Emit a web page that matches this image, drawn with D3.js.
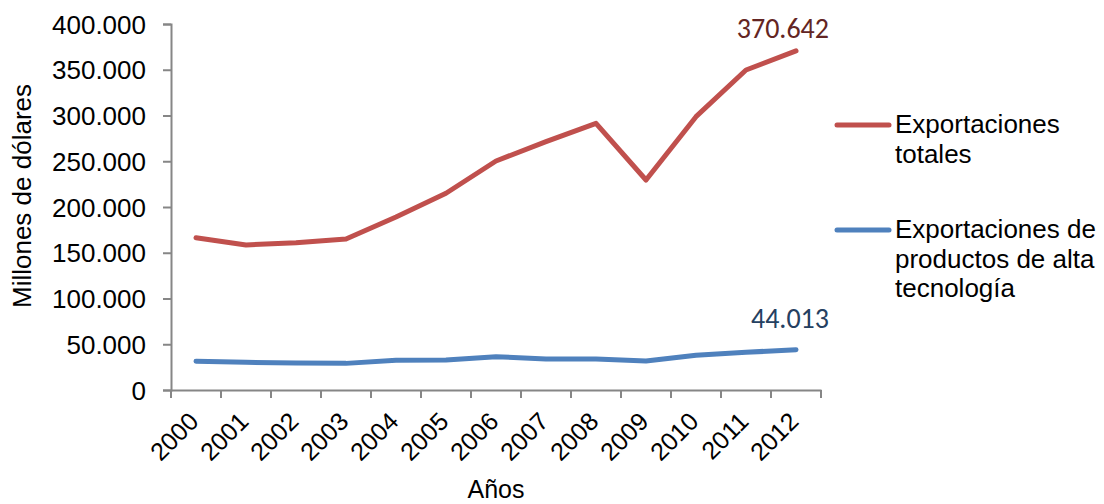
<!DOCTYPE html>
<html><head><meta charset="utf-8">
<script src="https://cdn.jsdelivr.net/npm/d3@7"></script>
<style>body{margin:0;background:#fff;} svg{display:block;}</style>
</head><body>
<svg id="c" width="1104" height="504"></svg>
<script>
const years = ["2000","2001","2002","2003","2004","2005","2006","2007","2008","2009","2010","2011","2012"];
const totales = [166400,158500,161000,165000,189000,215000,250300,271500,291400,229500,298700,349700,370642];
const altaTec = [31400,30300,29500,29100,32400,32800,36400,33900,33900,31700,37900,41200,44013];
const yTicks = [0,50000,100000,150000,200000,250000,300000,350000,400000];
const seriesNames = [["Exportaciones","totales"],["Exportaciones de","productos de alta","tecnología"]];
const colors = ["#C0504D","#4F81BD"];
const labelColors = ["#632523","#254061"];

const svg = d3.select("#c");
const x = d3.scaleBand().domain(years).range([171,821]);
const y = d3.scaleLinear().domain([0,400000]).range([390,24]);
const fmt = v => v===0 ? "0" : d3.format(",")(v).replace(/,/g,".");
const font = "'Liberation Sans', Arial, sans-serif";
const fs = 26;
const axisColor = "#868686";

// Y axis
const ya = svg.append("g").attr("transform","translate(171,0)")
  .call(d3.axisLeft(y).tickValues(yTicks).tickFormat(fmt).tickSize(8).tickPadding(17));
ya.select(".domain").attr("stroke",axisColor).attr("stroke-width",2);
ya.selectAll(".tick line").attr("stroke",axisColor).attr("stroke-width",2);
ya.selectAll(".tick text").attr("font-family",font).attr("font-size",fs).attr("fill","#000").attr("dy","0.35em");

// X axis
const xa = svg.append("g").attr("transform","translate(0,390)")
  .call(d3.axisBottom(x).tickSize(0).tickFormat(""));
xa.select(".domain").attr("stroke",axisColor).attr("stroke-width",2);
const edges = years.map(d=>x(d)).concat([x.range()[1]]);
xa.selectAll(".edge").data(edges).enter().append("line")
  .attr("x1",d=>d).attr("x2",d=>d).attr("y1",0).attr("y2",8)
  .attr("stroke",axisColor).attr("stroke-width",2);
svg.append("g").selectAll("text").data(years).enter().append("text")
  .attr("transform",d=>`translate(${x(d)+x.bandwidth()/2+4},${423}) rotate(-45)`)
  .attr("text-anchor","end")
  .attr("font-family",font).attr("font-size",fs-1).attr("fill","#000")
  .text(d=>d);

// Axis titles
svg.append("text").attr("x",496).attr("y",498).attr("text-anchor","middle")
  .attr("font-family",font).attr("font-size",fs-1).text("Años");
svg.append("text").attr("transform","translate(31,196) rotate(-90)").attr("text-anchor","middle")
  .attr("font-family",font).attr("font-size",fs).text("Millones de dólares");

// Lines
const line = d3.line().x((d,i)=>x(years[i])+x.bandwidth()/2).y(d=>y(d));
[totales, altaTec].forEach((s,k)=>{
  svg.append("path").datum(s).attr("d",line).attr("fill","none")
    .attr("stroke",colors[k]).attr("stroke-width",5).attr("stroke-linejoin","round").attr("stroke-linecap","round");
});

// Data labels at last point
const labelOff = [13,22];
[totales, altaTec].forEach((s,k)=>{
  const last = s[s.length-1];
  svg.append("text").attr("x",829).attr("y",y(last)-labelOff[k])
    .attr("text-anchor","end").attr("font-family","Carlito, Lato, 'Open Sans', sans-serif").attr("font-size",28)
    .attr("fill",labelColors[k]).text(fmt(last));
});

// Legend
const legY = [125,230];
seriesNames.forEach((lines,k)=>{
  svg.append("line").attr("x1",837).attr("x2",889).attr("y1",legY[k]).attr("y2",legY[k])
    .attr("stroke",colors[k]).attr("stroke-width",5).attr("stroke-linecap","round");
  lines.forEach((t,j)=>{
    svg.append("text").attr("x",895).attr("y",legY[k]+8+j*29.5)
      .attr("font-family",font).attr("font-size",fs).attr("fill","#000").text(t);
  });
});
</script>
</body></html>
